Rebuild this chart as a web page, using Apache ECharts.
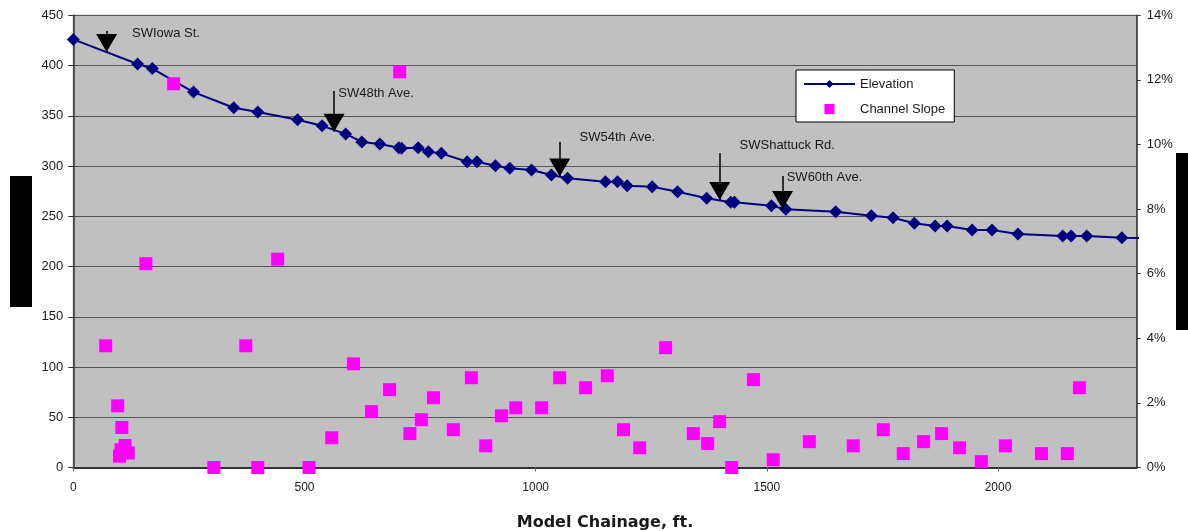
<!DOCTYPE html>
<html>
<head>
<meta charset="utf-8">
<script src="https://cdn.jsdelivr.net/npm/echarts@6/dist/echarts.min.js"></script>
<style>
  html, body { margin: 0; padding: 0; background: #fff; }
  #chart { width: 1188px; height: 531px; }
</style>
</head>
<body>
<div id="chart"></div>
<script>
// elevation profile (chainage ft, elevation ft)
const elevX = [0, 139, 171, 260, 347, 399, 485, 538, 589, 624, 663, 704, 710, 746, 768, 796, 852, 873, 913, 944, 991, 1034, 1069, 1151, 1177, 1198, 1252, 1307, 1370, 1422, 1430, 1510, 1541, 1649, 1726, 1773, 1819, 1864, 1890, 1944, 1987, 2043, 2140, 2158, 2192, 2268, 2330]
const elevY = [426, 401.5, 397, 373.6, 358, 353.7, 346, 340, 332, 324, 322, 318.2, 317.6, 318.2, 314.2, 312.6, 304.3, 304.3, 300.3, 297.7, 296, 291, 287.8, 284.4, 284.4, 280.4, 279.4, 274.4, 268, 264, 264, 260.5, 257, 254.5, 250.5, 248.6, 243, 240.3, 240.3, 236.3, 236.3, 232.3, 230.3, 230.3, 230.3, 228.7, 228]

// channel slope (chainage ft, slope %)
const slopeX = [70, 96, 105, 100, 103, 112, 119, 157, 217, 304, 373, 399, 442, 510, 559, 606, 645, 684, 706, 728, 753, 779, 822, 861, 892, 926, 957, 1013, 1052, 1108, 1155, 1190, 1225, 1281, 1341, 1372, 1398, 1424, 1471, 1514, 1592, 1687, 1752, 1795, 1839, 1878, 1917, 1964, 2016, 2094, 2150, 2176]
const slopeY = [3.77, 1.91, 1.24, 0.35, 0.55, 0.68, 0.45, 6.31, 11.88, 0, 3.77, 0, 6.45, 0, 0.92, 3.21, 1.73, 2.41, 12.25, 1.05, 1.48, 2.16, 1.17, 2.78, 0.67, 1.60, 1.85, 1.85, 2.78, 2.47, 2.84, 1.17, 0.61, 3.71, 1.05, 0.74, 1.42, 0, 2.72, 0.24, 0.80, 0.67, 1.17, 0.43, 0.80, 1.05, 0.61, 0.18, 0.67, 0.43, 0.43, 2.47]

// street crossings: arrow x, arrow tip, arrow tail, label anchor
const streetNames = ['SWIowa St.', 'SW48th Ave.', 'SW54th Ave.', 'SWShattuck Rd.', 'SW60th Ave.']
const streetX = [72, 564, 1052, 1398, 1534]
const streetTip = [413.4, 334.2, 289.6, 266.2, 257.2]
const streetTail = [434.3, 374.6, 323.9, 312.9, 290]
const streetLabelX = [127, 573, 1095, 1441, 1543]
const streetLabelY = [432.3, 372.3, 328.9, 320.9, 289]

const xTicks = { min: 0, max: 2300, interval: 500 }
const elevTicks = { min: 0, max: 450, interval: 50 }
const slopeTicks = { min: 0, max: 14, interval: 2 }

const font = 'Liberation Sans, Arial, sans-serif'

const chart = echarts.init(document.getElementById('chart'))

const arrowLines = streetX.map((x, i) => [
  { coord: [x, streetTail[i]] },
  { coord: [x, streetTip[i]] }
])
const arrowHeads = streetX.map((x, i) => ({
  coord: [x, streetTip[i]],
  symbol: 'triangle',
  symbolRotate: 180,
  symbolSize: [21, 18],
  symbolOffset: [0, -9],
  itemStyle: { color: '#000' },
  label: { show: false }
}))
const arrowLabels = streetNames.map((n, i) => ({
  coord: [streetLabelX[i], streetLabelY[i]],
  symbol: 'circle',
  symbolSize: 0,
  label: {
    show: true,
    position: 'right',
    distance: 0,
    formatter: n,
    color: '#1a1a1a',
    fontFamily: font,
    fontSize: 13
  }
}))

const option = {
  animation: false,
  backgroundColor: '#fff',
  grid: {
    left: 73.3,
    right: 51.3,
    top: 15.3,
    bottom: 63.5,
    outerBoundsMode: 'none',
    containLabel: false,
    show: true,
    backgroundColor: '#c0c0c0',
    borderColor: '#808080',
    borderWidth: 1
  },
  legend: {
    left: 796,
    top: 70,
    orient: 'vertical',
    backgroundColor: '#fff',
    borderColor: '#000',
    borderWidth: 1,
    borderRadius: 0,
    padding: [7, 9, 6, 7],
    itemWidth: 51,
    itemHeight: 10,
    itemGap: 11,
    textStyle: { fontFamily: font, fontSize: 13, color: '#1a1a1a', lineHeight: 14 },
    data: [
      { name: 'Elevation' },
      { name: 'Channel Slope', icon: 'path://M0,0H10V10H0Z' }
    ]
  },
  xAxis: {
    type: 'value',
    min: xTicks.min,
    max: xTicks.max,
    interval: xTicks.interval,
    name: 'Model Chainage, ft.',
    nameLocation: 'middle',
    nameGap: 47,
    nameTextStyle: { fontFamily: 'DejaVu Sans, sans-serif', fontSize: 16, fontWeight: 'bold', color: '#1a1a1a' },
    axisLine: { show: true, onZero: false, lineStyle: { color: '#333', width: 2 } },
    axisTick: { show: true, length: 4, lineStyle: { color: '#666' } },
    axisLabel: {
      margin: 14,
      showMaxLabel: false,
      fontFamily: font,
      fontSize: 12,
      color: '#1a1a1a',
      formatter: (v) => String(v)
    },
    splitLine: { show: false }
  },
  yAxis: [
    {
      type: 'value',
      min: elevTicks.min,
      max: elevTicks.max,
      interval: elevTicks.interval,
      axisLine: { show: true, lineStyle: { color: '#333', width: 1.5 } },
      axisTick: { show: true, length: 5, lineStyle: { color: '#333' } },
      axisLabel: { margin: 10, fontFamily: font, fontSize: 13, color: '#1a1a1a' },
      splitLine: { show: true, lineStyle: { color: '#555', width: 1 } }
    },
    {
      type: 'value',
      position: 'right',
      min: slopeTicks.min,
      max: slopeTicks.max,
      interval: slopeTicks.interval,
      axisLine: { show: true, lineStyle: { color: '#333', width: 1.5 } },
      axisTick: { show: true, length: 4, lineStyle: { color: '#333' } },
      axisLabel: { margin: 10, fontFamily: font, fontSize: 13, color: '#1a1a1a', formatter: '{value}%' },
      splitLine: { show: false }
    }
  ],
  series: [
    {
      name: 'Elevation',
      type: 'line',
      yAxisIndex: 0,
      data: elevX.map((x, i) => [x, elevY[i]]),
      symbol: 'diamond',
      symbolSize: 13,
      showAllSymbol: true,
      clip: true,
      itemStyle: { color: '#000080' },
      lineStyle: { color: '#000080', width: 2 },
      z: 2,
      markLine: {
        silent: true,
        symbol: ['none', 'none'],
        label: { show: false },
        lineStyle: { color: '#000', width: 1.5, type: 'solid' },
        data: arrowLines
      },
      markPoint: {
        silent: true,
        data: arrowHeads.concat(arrowLabels)
      }
    },
    {
      name: 'Channel Slope',
      type: 'scatter',
      yAxisIndex: 1,
      data: slopeX.map((x, i) => [x, slopeY[i]]),
      symbol: 'rect',
      symbolSize: 13,
      clip: false,
      itemStyle: { color: '#ff00ff', opacity: 1 },
      z: 3
    }
  ],
  graphic: [
    { type: 'rect', left: 10, top: 176, shape: { width: 22, height: 131 }, style: { fill: '#000' } },
    { type: 'rect', left: 1176, top: 153, shape: { width: 12, height: 177 }, style: { fill: '#000' } }
  ]
}

option && chart.setOption(option)
</script>
</body>
</html>
